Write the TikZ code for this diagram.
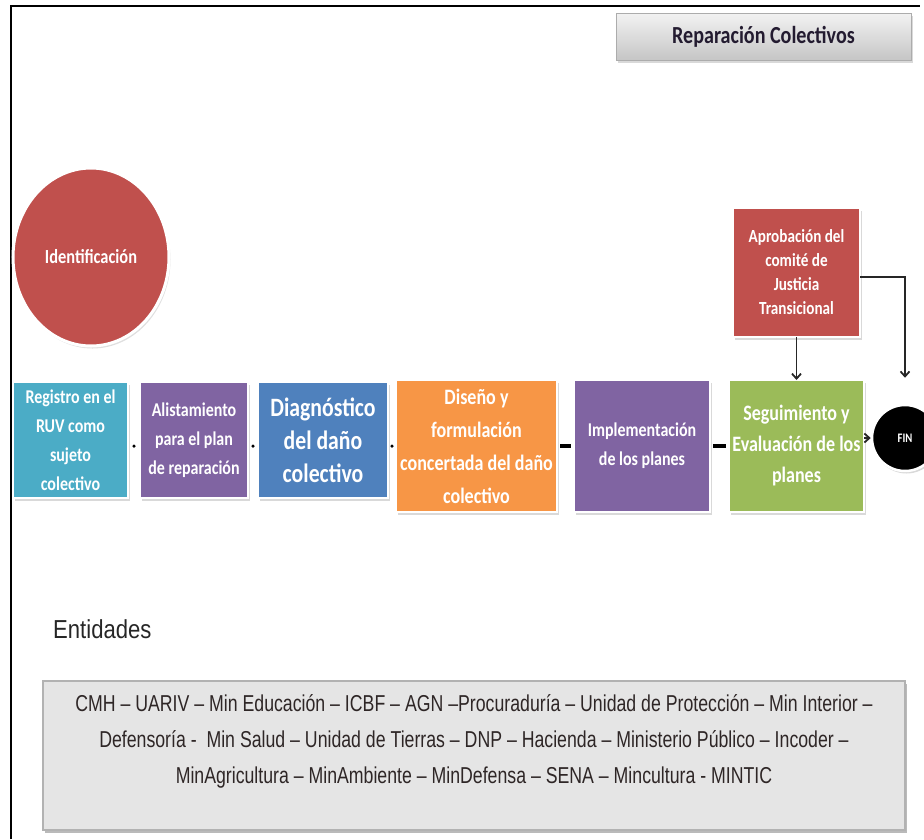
\documentclass[tikz,border=0pt]{standalone}
\usepackage{fontspec}
\setmainfont{Liberation Sans}
\newfontfamily\calib[FakeStretch=0.82]{Carlito}
\newfontfamily\narr[FakeStretch=0.85]{Liberation Sans}
\newfontfamily\narrb[FakeStretch=0.77]{Liberation Sans}
\usetikzlibrary{shadows,arrows.meta,shapes.geometric}
\definecolor{cCyan}{HTML}{4BACC6}
\definecolor{cPurple}{HTML}{8064A2}
\definecolor{cBlue}{HTML}{4F81BD}
\definecolor{cOrange}{HTML}{F79646}
\definecolor{cGreen}{HTML}{9BBB59}
\definecolor{cRed}{HTML}{C0504D}
\definecolor{cTitle}{HTML}{231B30}
\definecolor{cEnt}{HTML}{2E2626}
\tikzset{
  stepbox/.style={rectangle, draw=white, line width=2.5pt, inner sep=0pt, outer sep=0pt,
    text=white, align=center,
    drop shadow={opacity=.3, shadow xshift=1.5pt, shadow yshift=-2.5pt}},
  boxfont/.style 2 args={font={\calib\bfseries\fontsize{#1}{#2}\selectfont}},
  dotmark/.style={circle, fill=black, inner sep=0pt, minimum size=3.5pt},
  dashconn/.style={draw=black, line width=4pt, shorten <=3pt, shorten >=3pt},
  arr/.style={draw=black!85, line width=1.8pt, -{Straight Barb[length=5pt,width=9pt]}},
}
\begin{document}
\begin{tikzpicture}[x=1pt,y=-1pt]
\useasboundingbox (0,0) rectangle (924,839);
% frame
\draw[line width=2pt] (11,839) -- (11,6) -- (920,6);
% title
\node[rectangle, draw=gray!65, line width=1pt, top color=gray!10, bottom color=gray!45,
  minimum width=295pt, minimum height=47pt, inner sep=0pt,
  drop shadow={opacity=.3, shadow xshift=1.5pt, shadow yshift=-2.5pt},
  text=cTitle, font={\calib\bfseries\fontsize{24.5}{26}\selectfont}] (title) at (763.5,36.5) {Reparación Colectivos};
% identificación
\node[ellipse, fill=cRed, draw=white, line width=3pt, minimum width=156pt, minimum height=178pt,
  inner sep=0pt, text=white, font={\calib\bfseries\fontsize{20}{22}\selectfont},
  drop shadow={opacity=.25, shadow xshift=1.5pt, shadow yshift=-2.5pt}] (ident) at (91,257) {Identificación};
% steps
\node[stepbox, fill=cCyan, minimum width=115pt, minimum height=116pt, boxfont={19.5}{29}] (b1) at (70.5,440)
  {Registro en el\\RUV como\\sujeto\\colectivo};
\node[stepbox, fill=cPurple, minimum width=108pt, minimum height=116pt, boxfont={19.5}{29}] (b2) at (194,440)
  {Alistamiento\\para el plan\\de reparación};
\node[stepbox, fill=cBlue, minimum width=130pt, minimum height=116pt, boxfont={26.5}{33}] (b3) at (323,440)
  {Diagnóstico\\del daño\\colectivo};
\node[stepbox, fill=cOrange, minimum width=161pt, minimum height=132pt, boxfont={22}{33}] (b4) at (476.5,446)
  {Diseño y\\formulación\\concertada del daño\\colectivo};
\node[stepbox, fill=cPurple, minimum width=136pt, minimum height=132pt, boxfont={19.5}{29}] (b5) at (642,446)
  {Implementación\\de los planes};
\node[stepbox, fill=cGreen, minimum width=135pt, minimum height=132pt, boxfont={22}{31}] (b6) at (796.5,446)
  {Seguimiento y\\Evaluación de los\\planes};
\node[stepbox, fill=cRed, minimum width=127pt, minimum height=129pt, boxfont={18.5}{24}] (apr) at (796.5,272.5)
  {Aprobación del\\comité de\\Justicia\\Transicional};
\node[circle, fill=black, draw=white, line width=2.5pt, minimum size=66pt, inner sep=0pt,
  text=white, font={\calib\bfseries\fontsize{13}{14}\selectfont},
  drop shadow={opacity=.3, shadow xshift=1.5pt, shadow yshift=-2.5pt}] (fin) at (905,438) {FIN};
% connectors
\path ([yshift=-6pt]b1.east) -- node[dotmark]{} ([yshift=-6pt]b2.west);
\path ([yshift=-6pt]b2.east) -- node[dotmark]{} ([yshift=-6pt]b3.west);
\path ([yshift=-6pt]b3.east) -- node[dotmark]{} (b4.west);
\draw[dashconn] (b4.east) -- (b5.west);
\draw[dashconn] (b5.east) -- (b6.west);
\draw[arr] (b6.east |- fin.west) -- (fin.west);
\draw[arr] (apr.south) -- (b6.north);
\draw[arr] ([yshift=-4.5pt]apr.east) -| ([yshift=26pt]fin.north);
% entidades
\node[anchor=base west, inner sep=0pt, text=black!85, font={\narr\fontsize{26}{28}\selectfont}] (entl) at (53,638) {Entidades};
\node[rectangle, fill=gray!20, draw=gray!60, line width=1.5pt, minimum width=862pt, minimum height=149pt,
  inner sep=0pt, drop shadow={opacity=.45, fill=black!60, shadow xshift=1.5pt, shadow yshift=-3pt}] (ent) at (474,755.5) {};
\node[anchor=north, inner sep=0pt, align=center, text=cEnt, font={\narrb\fontsize{23}{36}\selectfont}] (entt) at (474,694)
  {CMH – UARIV – Min Educación – ICBF – AGN –Procuraduría – Unidad de Protección – Min Interior –\\
   Defensoría -~ Min Salud – Unidad de Tierras – DNP – Hacienda – Ministerio Público – Incoder –\\
   MinAgricultura – MinAmbiente – MinDefensa – SENA – Mincultura - MINTIC};
\end{tikzpicture}
\end{document}
